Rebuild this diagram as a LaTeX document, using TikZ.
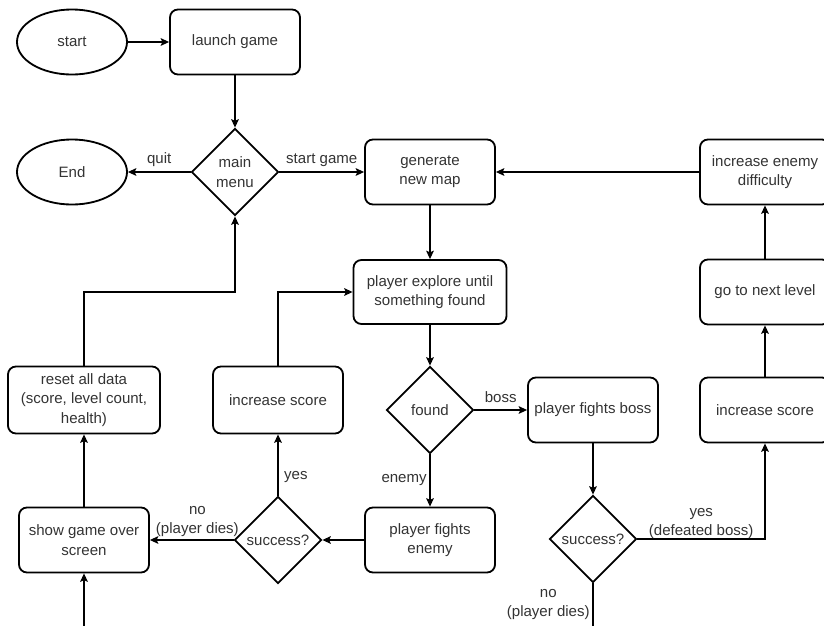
\documentclass[tikz,border=0pt]{standalone}
\usepackage{fontspec}
\setmainfont{Liberation Sans}
\usetikzlibrary{shapes.geometric,arrows.meta}

\begin{document}
\begin{tikzpicture}[x=0.025cm,y=-0.025cm,
    every node/.style={font=\fontsize{10.7pt}{13.7pt}\selectfont,text=black!80,align=center},
    term/.style={draw=black,line width=1.3pt,ellipse,minimum width=2.75cm,minimum height=1.625cm,inner sep=0pt},
    stepbox/.style={draw=black,line width=1.3pt,rounded corners=0.2cm,minimum width=3.25cm,minimum height=1.625cm,inner sep=1pt},
    choice/.style={draw=black,line width=1.3pt,diamond,minimum width=2.175cm,minimum height=2.175cm,inner sep=0pt},
    conn/.style={draw=black,line width=0.75pt,-{Stealth[length=6pt,width=5.5pt,inset=1.2pt]}},
    lbl/.style={inner sep=2pt}]
    \useasboundingbox (0,0) rectangle (824,626);
    \clip (0,0) rectangle (824,626);

    % top row
    \node[term] (start) at (72,42) {start};
    \node[stepbox] (launch) at (235,42) {launch game};

    % menu row
    \node[term] (end) at (72,172) {End};
    \node[choice] (menu) at (235,172) {main\\menu};
    \node[stepbox] (genmap) at (430,172) {generate\\new map};
    \node[stepbox] (incdiff) at (765,172) {increase enemy\\difficulty};

    % explore row
    \node[stepbox,minimum width=3.825cm,minimum height=1.6cm] (explore) at (430,292) {player explore until\\something found};
    \node[stepbox] (nextlvl) at (765,292) {go to next level};

    % middle row
    \node[stepbox,minimum width=3.8cm,minimum height=1.675cm] (reset) at (84,400) {reset all data\\(score, level count,\\health)};
    \node[stepbox,minimum height=1.675cm] (scoreL) at (278,400) {increase score};
    \node[choice] (found) at (430,410) {found};
    \node[stepbox] (fboss) at (593,410) {player fights boss};
    \node[stepbox] (scoreR) at (765,410) {increase score};

    % bottom row
    \node[stepbox] (over) at (84,540) {show game over\\screen};
    \node[choice] (succL) at (278,540) {success?};
    \node[stepbox] (fenemy) at (430,540) {player fights\\enemy};
    \node[choice] (succR) at (593,539) {success?};

    % connectors
    \draw[conn] (start) -- (launch);
    \draw[conn] (launch) -- (menu);
    \draw[conn] (menu) -- (end) node[lbl,midway,above=1.5pt] {quit};
    \draw[conn] (menu) -- (genmap) node[lbl,midway,above=1.5pt] {start game};
    \draw[conn] (incdiff) -- (genmap);
    \draw[conn] (genmap) -- (explore);
    \draw[conn] (nextlvl) -- (incdiff);
    \draw[conn] (scoreR) -- (nextlvl);
    \draw[conn] (explore) -- (found);
    \draw[conn] (found) -- (fboss) node[lbl,midway,above=3pt] {boss};
    \draw[conn] (found) -- (fenemy) node[lbl,midway,left] {enemy};
    \draw[conn] (fboss) -- (succR);
    \draw[conn] (succR.east) -| (scoreR.south) node[lbl,pos=0.25,above,yshift=-2pt] {yes\\(defeated boss)};
    \draw[conn] (fenemy) -- (succL.east);
    \draw[conn] (succL.west) -- (over) node[lbl,midway,above,xshift=4pt] {no\\(player dies)};
    \draw[conn] (succL.north) -- (scoreL) node[lbl,pos=0.3,right=2pt] {yes};
    \draw[conn] (scoreL.north) |- (explore.west);
    \draw[conn] (over) -- (reset);
    \draw[conn] (reset.north) |- (menu.south |- explore.west) -- (menu.south);
    \draw[conn] (succR.south) node[lbl,anchor=north east,yshift=-2pt] {no\\(player dies)} -- ++(0,80) -| (over.south);
\end{tikzpicture}
\end{document}
